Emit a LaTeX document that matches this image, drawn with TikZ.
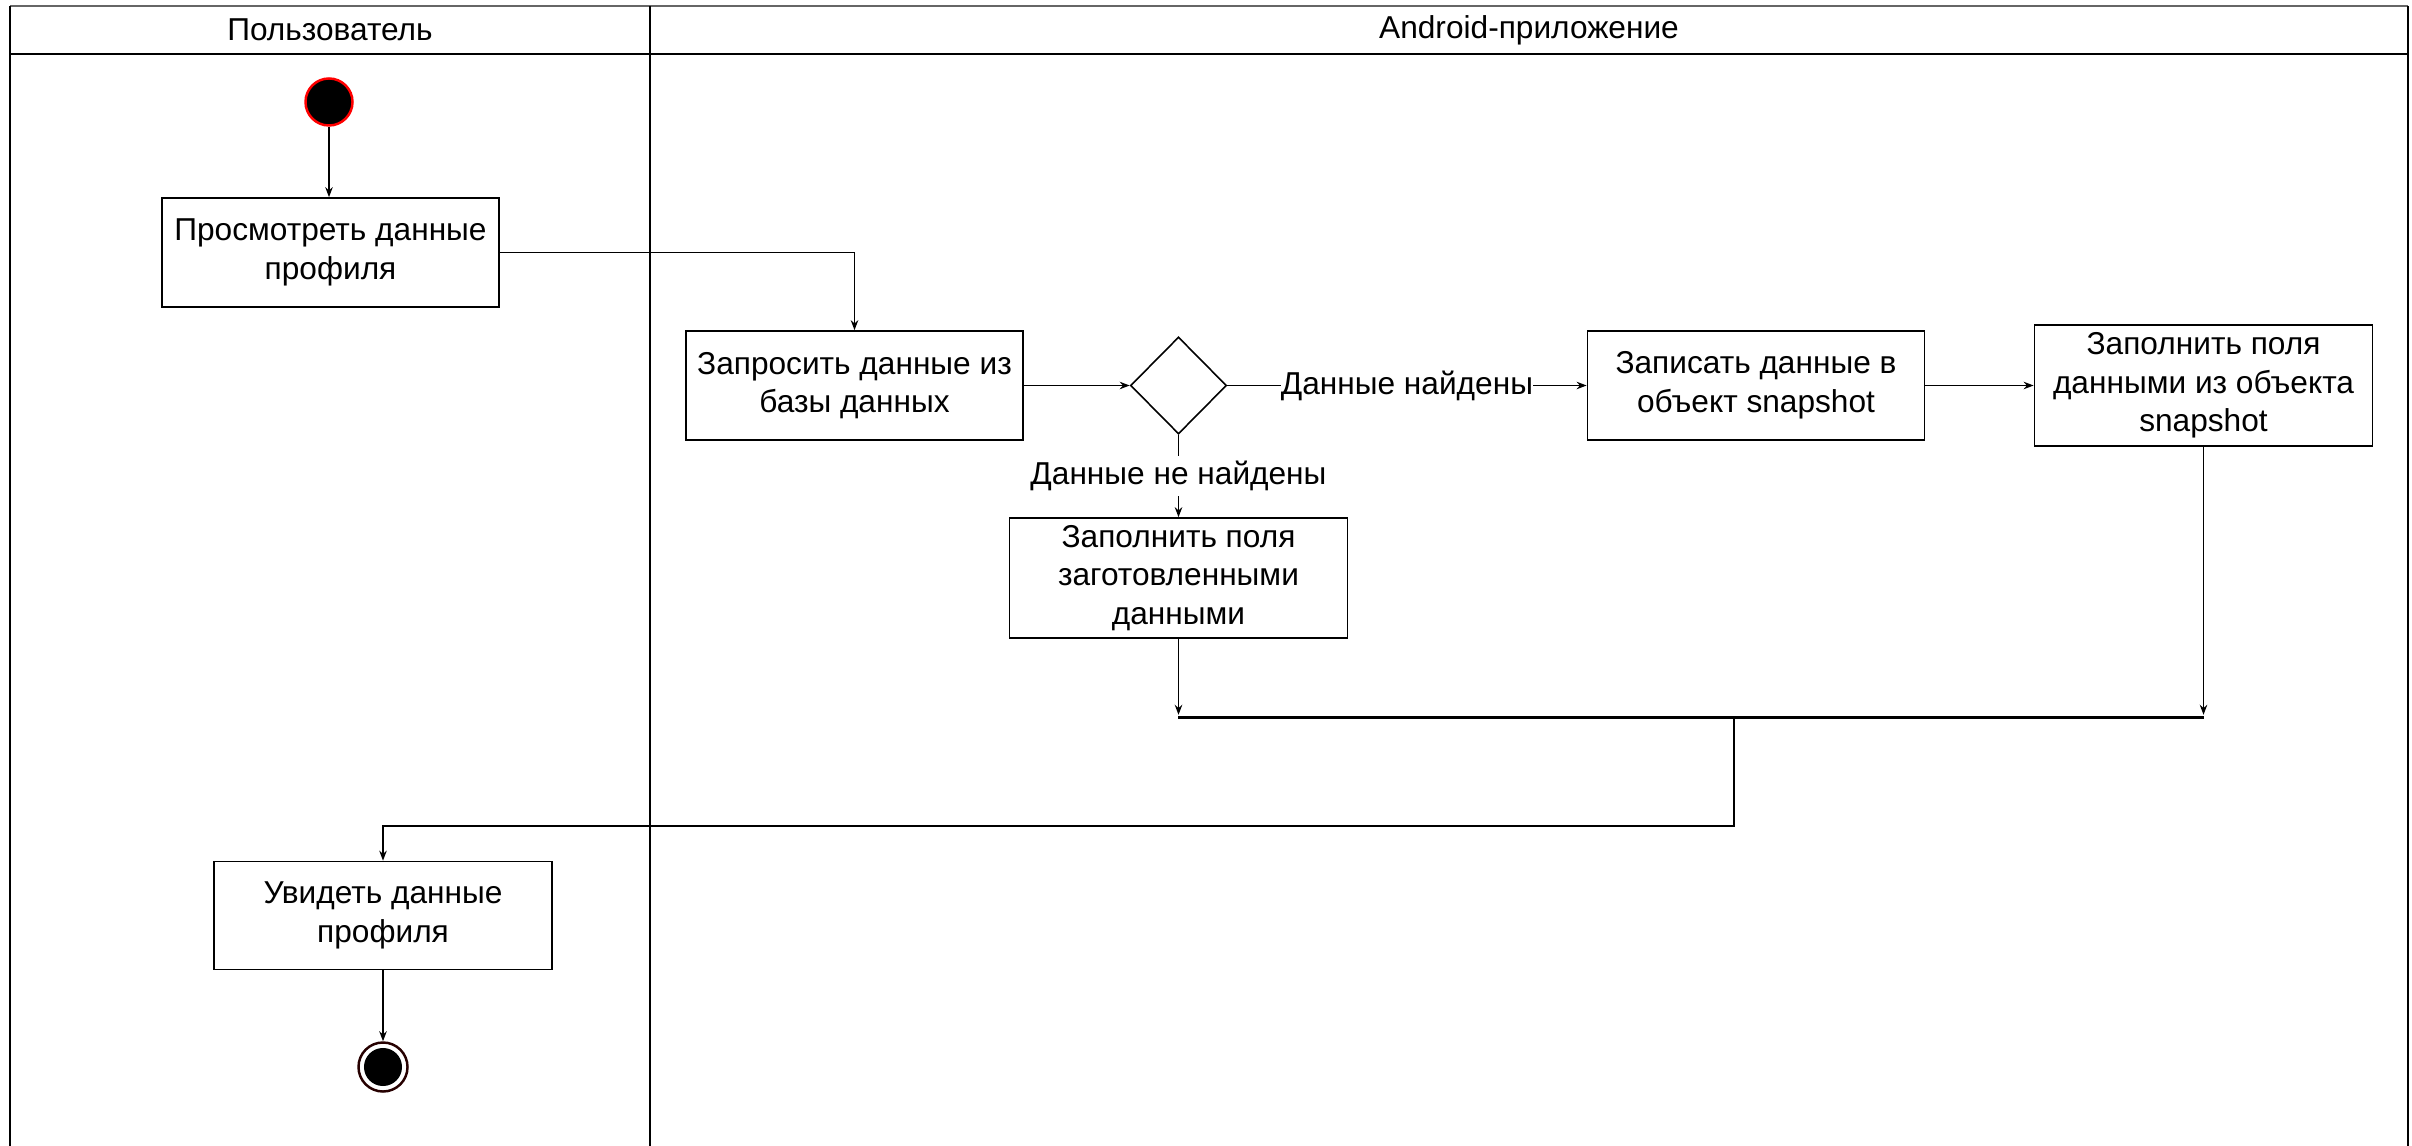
\documentclass[tikz,border=0pt]{standalone}
\usepackage{fontspec}
\setmainfont{Liberation Sans}
\usetikzlibrary{arrows.meta,shapes.geometric}
\begin{document}
\begin{tikzpicture}[x=0.01cm,y=-0.01cm,
  every node/.style={font=\fontsize{9}{11}\selectfont},
  act/.style={draw, line width=0.45pt, align=center, inner sep=0pt},
  flow/.style={draw, line width=0.45pt, -{Stealth[length=0.1cm,width=0.075cm]}},
  lane/.style={line width=0.5pt},
  lbl/.style={fill=white, inner xsep=0pt, inner ysep=1.5pt},
]
\useasboundingbox (0,0) rectangle (2412,1146);

% swimlane frame
\draw[lane, black!60] (10,6) -- (2408,6);
\draw[lane] (10,54) -- (2408,54);
\draw[lane] (10,6) -- (10,1146);
\draw[lane] (650,6) -- (650,1146);
\draw[line width=0.8pt] (2408,6) -- (2408,1146);
\node (laneuser) at (330,30) {Пользователь};
\node (laneapp) at (1529,30) {Android-приложение};

% initial and final states
\node[circle, fill=black, draw=red, line width=0.7pt, minimum size=0.47cm, inner sep=0] (start) at (329,102) {};
\node[circle, draw=black!85!red, line width=0.7pt, minimum size=0.49cm, inner sep=0] (end) at (383,1067) {};
\fill (end.center) circle (0.19cm);

% activities
\node[act, minimum width=3.37cm, minimum height=1.09cm] (view) at (330.5,252.5) {Просмотреть данные\\профиля};
\node[act, minimum width=3.37cm, minimum height=1.09cm] (query) at (854.5,385.5) {Запросить данные из\\базы данных};
\node[diamond, draw, line width=0.45pt, minimum width=0.96cm, minimum height=0.97cm, inner sep=0] (dec) at (1178.5,385.5) {};
\node[act, minimum width=3.37cm, minimum height=1.09cm] (write) at (1756,385.5) {Записать данные в\\объект snapshot};
\node[act, minimum width=3.38cm, minimum height=1.21cm] (fillsnap) at (2203.5,385.5) {Заполнить поля\\данными из объекта\\snapshot};
\node[act, minimum width=3.38cm, minimum height=1.20cm] (filldef) at (1178.5,578) {Заполнить поля\\заготовленными\\данными};
\node[act, minimum width=3.38cm, minimum height=1.08cm] (see) at (383,915.5) {Увидеть данные\\профиля};

% join bar
\node[fill=black, minimum width=10.26cm, minimum height=0.03cm, inner sep=0] (bar) at (1691,717) {};
\coordinate (jx) at (1734,826);

% control flow
\draw[flow] (start) -- (start |- view.north);
\draw[flow] (view.east) -| (query.north);
\draw[flow] (query) -- (dec);
\draw[flow] (dec) -- node[lbl] {Данные найдены} (write);
\draw[flow] (dec) -- node[lbl] {Данные не найдены} (filldef);
\draw[flow] (write) -- (fillsnap);
\draw[flow] (filldef.south) -- (filldef.south |- bar.north);
\draw[flow] (fillsnap.south) -- (fillsnap.south |- bar.north);
\draw[flow] (jx |- bar.south) -- (jx) -| (see.north);
\draw[flow] (see) -- (end);
\end{tikzpicture}
\end{document}
